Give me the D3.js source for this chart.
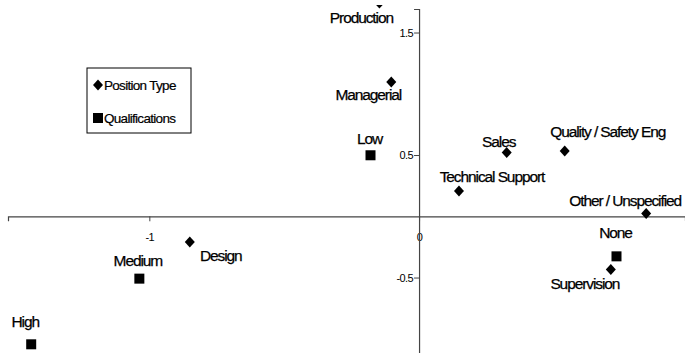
<!DOCTYPE html>
<html>
<head>
<meta charset="utf-8">
<script src="https://cdn.jsdelivr.net/npm/d3@7"></script>
<style>
body { margin: 0; background: #fff; }
text { font-family: "Liberation Sans", Arial, sans-serif; fill: #000; }
</style>
</head>
<body>
<script>
// position types (diamonds)
var posNames = ["Production", "Managerial", "Sales", "Quality / Safety Eng", "Technical Support",
                "Other / Unspecified", "Supervision", "Design"];
var posX = [-0.147, -0.103, 0.325, 0.54, 0.148, 0.842, 0.711, -0.85];
var posY = [1.74, 1.096, 0.52, 0.533, 0.207, 0.022, -0.435, -0.21];

// qualifications (squares)
var qualNames = ["Low", "None", "Medium", "High"];
var qualX = [-0.18, 0.732, -1.037, -1.438];
var qualY = [0.498, -0.327, -0.509, -1.045];

var xTicks = [-1, 0];
var yTicks = [1.5, 0.5, -0.5];
var legendNames = ["Position Type", "Qualifications"];

// label placement, px offset from the marker
var labelPos = {
  "Production": [-18, 20], "Managerial": [-23, 18], "Sales": [-8, -6],
  "Quality / Safety Eng": [43, -14], "Technical Support": [33, -9],
  "Other / Unspecified": [-21, -8], "Supervision": [-26, 19], "Design": [31, 19],
  "Low": [-1, -11], "None": [-1, -18], "Medium": [-1.5, -13], "High": [-6, -17]
};

var width = 685, height = 353;

var x = d3.scaleLinear().domain([-1.524, 0.986]).range([8, 685]);
var y = d3.scaleLinear().domain([-1.116, 1.692]).range([353, 9]);

var svg = d3.select("body").append("svg")
    .attr("width", width)
    .attr("height", height);

svg.append("defs").append("clipPath").attr("id", "plot")
  .append("rect").attr("x", 0).attr("y", 5).attr("width", width).attr("height", height - 5);

// axes crossing at 0
var fmt = function (d) { return String(d); };
var xAxis = svg.append("g")
    .attr("transform", "translate(0," + y(0) + ")")
    .call(d3.axisBottom(x).tickValues(xTicks).tickSize(5).tickFormat(fmt));
var yAxis = svg.append("g")
    .attr("transform", "translate(" + x(0) + ",0)")
    .call(d3.axisLeft(y).tickValues(yTicks).tickSize(5).tickFormat(fmt));

[xAxis, yAxis].forEach(function (a) {
  a.select(".domain").attr("stroke", "#444").attr("stroke-width", 1.2);
  a.selectAll(".tick line").attr("stroke", "#444");
  a.selectAll(".tick text")
    .style("font-family", "'Liberation Sans', Arial, sans-serif")
    .style("font-size", "11px")
    .style("letter-spacing", "-0.6px")
    .attr("fill", "#000");
});
xAxis.selectAll(".tick text").attr("dy", "1.5em");
yAxis.selectAll(".tick text").attr("x", -6);

var diamond = "M0,-5.5L5,0L0,5.5L-5,0Z";

var marks = svg.append("g").attr("clip-path", "url(#plot)");

var pos = posNames.map(function (n, i) { return {name: n, x: posX[i], y: posY[i]}; });
var qual = qualNames.map(function (n, i) { return {name: n, x: qualX[i], y: qualY[i]}; });

marks.selectAll("path.pos").data(pos).join("path")
    .attr("class", "pos")
    .attr("d", diamond)
    .attr("transform", function (d) { return "translate(" + x(d.x) + "," + y(d.y) + ")"; })
    .attr("fill", "#000");

marks.selectAll("rect.qual").data(qual).join("rect")
    .attr("class", "qual")
    .attr("x", function (d) { return x(d.x) - 5; })
    .attr("y", function (d) { return y(d.y) - 5; })
    .attr("width", 10)
    .attr("height", 10)
    .attr("fill", "#000");

svg.selectAll("text.lbl").data(pos.concat(qual)).join("text")
    .attr("class", "lbl")
    .attr("x", function (d) { return x(d.x) + labelPos[d.name][0]; })
    .attr("y", function (d) { return y(d.y) + labelPos[d.name][1]; })
    .attr("text-anchor", "middle")
    .style("font-size", "15.5px")
    .style("letter-spacing", "-1.1px")
    .attr("stroke", "#000")
    .attr("stroke-width", 0.25)
    .text(function (d) { return d.name; });

// legend
var lg = svg.append("g").attr("transform", "translate(87,68)");
lg.append("rect").attr("width", 104).attr("height", 65)
    .attr("fill", "#fff").attr("stroke", "#000").attr("stroke-width", 1);
lg.append("path").attr("d", diamond)
    .attr("transform", "translate(11,17)").attr("fill", "#000");
lg.append("rect").attr("x", 6).attr("y", 45).attr("width", 10).attr("height", 10).attr("fill", "#000");
lg.selectAll("text").data(legendNames).join("text")
    .attr("x", 17)
    .attr("y", function (d, i) { return 22 + i * 33; })
    .style("font-size", "13.5px")
    .style("letter-spacing", "-0.7px")
    .attr("stroke", "#000")
    .attr("stroke-width", 0.2)
    .text(function (d) { return d; });
</script>
</body>
</html>
